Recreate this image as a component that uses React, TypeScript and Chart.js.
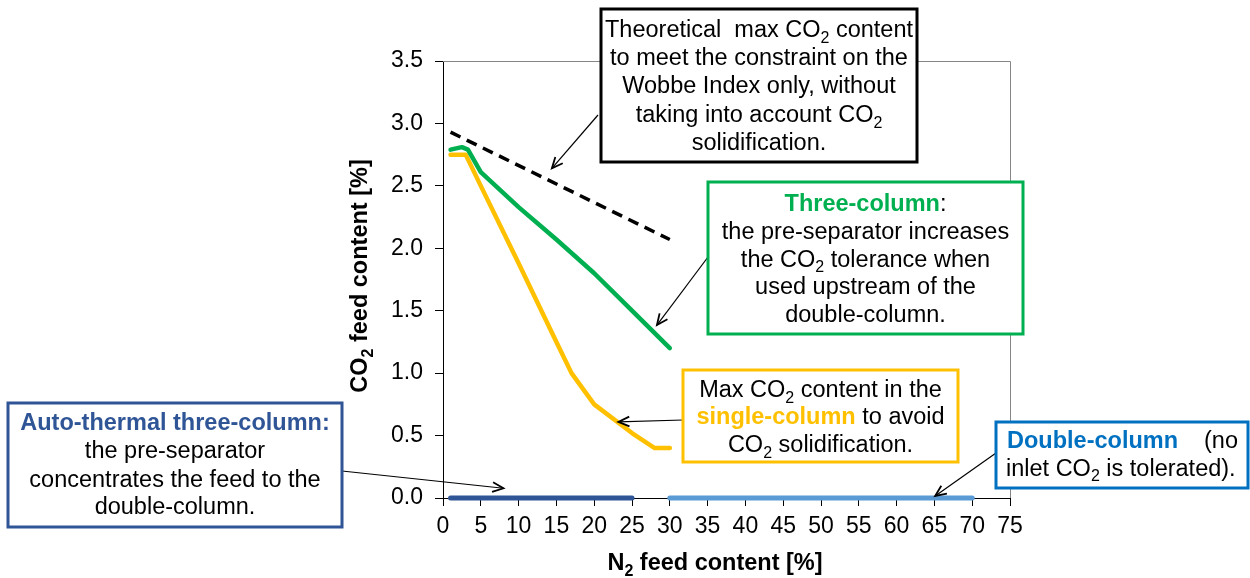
import { useEffect, useRef } from "react";
import { Chart, registerables } from "chart.js";

Chart.register(...registerables);

const FONT = '"Liberation Sans", Arial, Helvetica, sans-serif';

// ---- data -------------------------------------------------------------
const xTickValues = [0, 5, 10, 15, 20, 25, 30, 35, 40, 45, 50, 55, 60, 65, 70, 75];
const xTickLabels = ["0", "5", "10", "15", "20", "25", "30", "35", "40", "45", "50", "55", "60", "65", "70", "75"];
const yTickValues = [0, 0.5, 1, 1.5, 2, 2.5, 3, 3.5];
const yTickLabels = ["0.0", "0.5", "1.0", "1.5", "2.0", "2.5", "3.0", "3.5"];

// Wobbe Index limit (no solidification constraint)
const wobbeN2 = [1, 30];
const wobbeCO2 = [2.93, 2.07];

// Three-column scheme
const threeColN2 = [1, 2.5, 3.3, 5, 10, 15, 20, 25, 30];
const threeColCO2 = [2.79, 2.81, 2.79, 2.61, 2.33, 2.07, 1.8, 1.5, 1.2];

// Single-column scheme
const singleColN2 = [1, 3, 5, 10, 15, 17, 20, 25, 28, 30];
const singleColCO2 = [2.75, 2.75, 2.5, 1.88, 1.25, 1.0, 0.75, 0.52, 0.4, 0.4];

// Auto-thermal three-column scheme
const autoThermalN2 = [1, 25];
const autoThermalCO2 = [0, 0];

// Double-column scheme
const doubleColN2 = [30, 70];
const doubleColCO2 = [0, 0];

// ---- colours ------------------------------------------------------------
const GREEN = "#00B050";
const YELLOW = "#FFC000";
const DARK_BLUE = "#2F5597";
const LIGHT_BLUE = "#5B9BD5";
const MID_BLUE = "#0070C0";

type Seg = { t: string; b?: boolean; c?: string; sub?: boolean };
type Line = Seg[];

const TEXT_SIZE = 23.5;

function segFont(s: Seg, size: number) {
  const px = s.sub ? Math.round(size * 0.66) : size;
  return `${s.b ? "bold " : ""}${px}px ${FONT}`;
}

function lineWidth(ctx: CanvasRenderingContext2D, line: Line, size: number) {
  let w = 0;
  for (const s of line) {
    ctx.font = segFont(s, size);
    w += ctx.measureText(s.t).width;
  }
  return w;
}

function drawLine(ctx: CanvasRenderingContext2D, line: Line, x: number, y: number, size: number) {
  ctx.textAlign = "left";
  ctx.textBaseline = "alphabetic";
  let cx = x;
  for (const s of line) {
    ctx.font = segFont(s, size);
    ctx.fillStyle = s.c || "#000";
    ctx.fillText(s.t, cx, y + (s.sub ? size * 0.24 : 0));
    cx += ctx.measureText(s.t).width;
  }
}

function drawCentered(ctx: CanvasRenderingContext2D, line: Line, cx: number, y: number, size: number) {
  const w = lineWidth(ctx, line, size);
  drawLine(ctx, line, cx - w / 2, y, size);
}

const CO2: Seg[] = [{ t: "CO" }, { t: "2", sub: true }];

// Callout boxes: frame [left, top, right, bottom], text lines and baselines
const notes = [
  {
    frame: [601, 9, 917, 162],
    stroke: "#000",
    lines: [
      [{ t: "Theoretical  max CO" }, { t: "2", sub: true }, { t: " content" }],
      [{ t: "to meet the constraint on the" }],
      [{ t: "Wobbe Index only, without" }],
      [{ t: "taking into account CO" }, { t: "2", sub: true }],
      [{ t: "solidification." }],
    ] as Line[],
    baselines: [37, 65, 93, 122, 150],
  },
  {
    frame: [708, 182, 1023, 334],
    stroke: GREEN,
    lines: [
      [{ t: "Three-column", b: true, c: GREEN }, { t: ":" }],
      [{ t: "the pre-separator increases" }],
      [{ t: "the " }, ...CO2, { t: " tolerance when" }],
      [{ t: "used upstream of the" }],
      [{ t: "double-column." }],
    ] as Line[],
    baselines: [211, 238.5, 266.5, 294, 321.5],
  },
  {
    frame: [683, 370, 958, 462],
    stroke: YELLOW,
    lines: [
      [{ t: "Max " }, ...CO2, { t: " content in the" }],
      [{ t: "single-column", b: true, c: YELLOW }, { t: " to avoid" }],
      [...CO2, { t: " solidification." }],
    ] as Line[],
    baselines: [397, 424, 452],
  },
  {
    frame: [8, 403, 342, 527],
    stroke: DARK_BLUE,
    lines: [
      [{ t: "Auto-thermal three-column:", b: true, c: DARK_BLUE }],
      [{ t: "the pre-separator" }],
      [{ t: "concentrates the feed to the" }],
      [{ t: "double-column." }],
    ] as Line[],
    baselines: [429.5, 458, 486.5, 513.5],
  },
];

// Arrows: start point (pixels, on a callout edge) and tip (data values)
const arrows = [
  { from: [598, 115], tip: [14.4, 2.64] },
  { from: [708, 257], tip: [28.3, 1.385] },
  { from: [683, 420], tip: [23.2, 0.61] },
  { from: [342, 471], tip: [8.0, 0.078] },
  { from: [996, 453], tip: [65.1, 0.016] },
];

function drawArrow(ctx: CanvasRenderingContext2D, x0: number, y0: number, x1: number, y1: number) {
  const ang = Math.atan2(y1 - y0, x1 - x0);
  ctx.save();
  ctx.strokeStyle = "#000";
  ctx.lineWidth = 1.2;
  ctx.beginPath();
  ctx.moveTo(x0, y0);
  ctx.lineTo(x1, y1);
  ctx.stroke();
  const len = 12;
  const spread = 0.42;
  ctx.lineWidth = 1.8;
  ctx.lineJoin = "miter";
  ctx.beginPath();
  ctx.moveTo(x1 - len * Math.cos(ang - spread), y1 - len * Math.sin(ang - spread));
  ctx.lineTo(x1, y1);
  ctx.lineTo(x1 - len * Math.cos(ang + spread), y1 - len * Math.sin(ang + spread));
  ctx.stroke();
  ctx.restore();
}

const decorPlugin = {
  id: "decor",
  beforeDatasetsDraw(chart: any) {
    const { ctx, chartArea } = chart;
    const { left, top, right, bottom } = chartArea;
    ctx.save();
    ctx.strokeStyle = "#868686";
    ctx.lineWidth = 1;
    ctx.beginPath();
    ctx.moveTo(left, top + 0.5);
    ctx.lineTo(right + 0.5, top + 0.5);
    ctx.lineTo(right + 0.5, bottom);
    ctx.stroke();
    ctx.restore();
  },
  afterDatasetsDraw(chart: any) {
    const { ctx } = chart;
    const xs = chart.scales.x;
    const ys = chart.scales.y;
    ctx.save();

    // axis titles
    drawCentered(
      ctx,
      [{ t: "N", b: true }, { t: "2", b: true, sub: true }, { t: " feed content [%]", b: true }],
      715,
      570,
      TEXT_SIZE
    );
    ctx.save();
    ctx.translate(367, 276);
    ctx.rotate(-Math.PI / 2);
    drawCentered(
      ctx,
      [{ t: "CO", b: true }, { t: "2", b: true, sub: true }, { t: " feed content [%]", b: true }],
      0,
      0,
      TEXT_SIZE
    );
    ctx.restore();

    // arrows
    for (const a of arrows) {
      drawArrow(ctx, a.from[0], a.from[1], xs.getPixelForValue(a.tip[0]), ys.getPixelForValue(a.tip[1]));
    }

    // callout boxes
    for (const n of notes) {
      const [l, t, r, b] = n.frame;
      ctx.fillStyle = "#fff";
      ctx.fillRect(l, t, r - l, b - t);
      ctx.strokeStyle = n.stroke;
      ctx.lineWidth = 3;
      ctx.strokeRect(l, t, r - l, b - t);
      const cx = (l + r) / 2;
      n.lines.forEach((ln, i) => drawCentered(ctx, ln, cx, n.baselines[i], TEXT_SIZE));
    }

    // double-column callout (justified text)
    {
      const l = 996, t = 422, r = 1248, b = 488;
      ctx.fillStyle = "#fff";
      ctx.fillRect(l, t, r - l, b - t);
      ctx.strokeStyle = MID_BLUE;
      ctx.lineWidth = 3;
      ctx.strokeRect(l, t, r - l, b - t);
      drawLine(ctx, [{ t: "Double-column", b: true, c: MID_BLUE }], 1007, 447.5, TEXT_SIZE);
      const noLine: Line = [{ t: "(no" }];
      drawLine(ctx, noLine, 1238 - lineWidth(ctx, noLine, TEXT_SIZE), 447.5, TEXT_SIZE);
      drawLine(ctx, [{ t: "inlet " }, ...CO2, { t: " is tolerated)." }], 1006, 475.5, TEXT_SIZE);
    }

    ctx.restore();
  },
};

function pts(xs: number[], ys: number[]) {
  return xs.map((x, i) => ({ x, y: ys[i] }));
}

export default function App() {
  const canvasRef = useRef<HTMLCanvasElement | null>(null);

  useEffect(() => {
    const canvas = canvasRef.current;
    if (!canvas) return;
    const lineBase = {
      pointRadius: 0,
      pointHoverRadius: 0,
      fill: false,
      tension: 0,
      clip: false as any,
      borderJoinStyle: "round" as const,
    };
    const chart = new Chart(canvas, {
      type: "line",
      data: {
        datasets: [
          {
            ...lineBase,
            label: "Wobbe Index limit",
            data: pts(wobbeN2, wobbeCO2),
            borderColor: "#000",
            borderWidth: 3.5,
            borderDash: [11, 7],
            borderCapStyle: "butt",
          },
          {
            ...lineBase,
            label: "Three-column",
            data: pts(threeColN2, threeColCO2),
            borderColor: GREEN,
            borderWidth: 4.5,
            borderCapStyle: "round",
          },
          {
            ...lineBase,
            label: "Single-column",
            data: pts(singleColN2, singleColCO2),
            borderColor: YELLOW,
            borderWidth: 4.5,
            borderCapStyle: "round",
          },
          {
            ...lineBase,
            label: "Auto-thermal three-column",
            data: pts(autoThermalN2, autoThermalCO2),
            borderColor: DARK_BLUE,
            borderWidth: 5,
            borderCapStyle: "round",
          },
          {
            ...lineBase,
            label: "Double-column",
            data: pts(doubleColN2, doubleColCO2),
            borderColor: LIGHT_BLUE,
            borderWidth: 5,
            borderCapStyle: "round",
          },
        ],
      },
      options: {
        responsive: false,
        animation: false,
        devicePixelRatio: 1,
        layout: { padding: { top: 61, right: 240, bottom: 0, left: 0 } },
        plugins: {
          legend: { display: false },
          tooltip: { enabled: false },
          title: { display: false },
        },
        events: [],
        scales: {
          x: {
            type: "linear",
            min: 0,
            max: 75,
            afterBuildTicks: (s: any) => {
              s.ticks = xTickValues.map((value) => ({ value }));
            },
            afterFit: (s: any) => {
              s.height = 80;
            },
            ticks: {
              callback: (_v: any, i: number) => xTickLabels[i],
              font: { family: FONT, size: 23 },
              color: "#000",
              padding: 7,
              maxRotation: 0,
              autoSkip: false,
            },
            grid: { drawOnChartArea: false, drawTicks: true, tickLength: 8, color: "#000", lineWidth: 1 },
            border: { display: true, color: "#000", width: 1 },
          },
          y: {
            type: "linear",
            min: 0,
            max: 3.5,
            afterBuildTicks: (s: any) => {
              s.ticks = yTickValues.map((value) => ({ value }));
            },
            afterFit: (s: any) => {
              s.width = 443;
            },
            ticks: {
              callback: (_v: any, i: number) => yTickLabels[i],
              font: { family: FONT, size: 23 },
              color: "#000",
              padding: 12,
              autoSkip: false,
            },
            grid: { drawOnChartArea: false, drawTicks: true, tickLength: 8, color: "#000", lineWidth: 1 },
            border: { display: true, color: "#000", width: 1 },
          },
        },
      },
      plugins: [decorPlugin],
    });
    return () => chart.destroy();
  }, []);

  return (
    <div style={{ position: "fixed", left: 0, top: 0, width: 1250, height: 578, background: "#fff" }}>
      <canvas ref={canvasRef} width={1250} height={578} style={{ display: "block" }} />
    </div>
  );
}
